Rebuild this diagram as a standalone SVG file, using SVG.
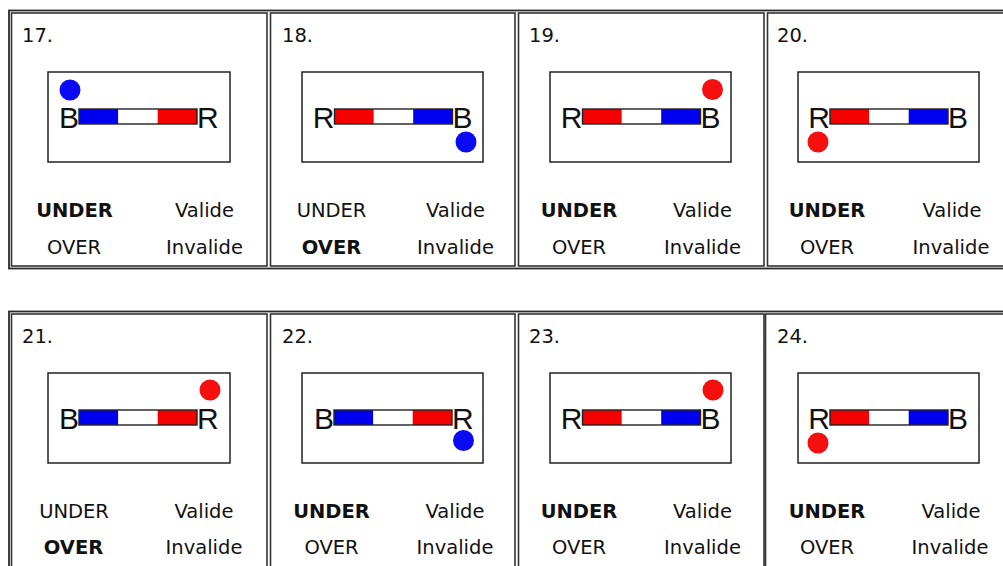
<svg xmlns="http://www.w3.org/2000/svg" width="1003" height="566" viewBox="0 0 1003 566">
<style>
.tbl{fill:none;stroke:#2a2a2a;stroke-width:1.8}
.cell{fill:none;stroke:#333;stroke-width:1.6}
.box{fill:#fff;stroke:#222;stroke-width:1.5}
.seg{stroke:none}
.barline{fill:none;stroke:#222;stroke-width:1.4}
.blue{fill:#0000f0}
.red{fill:#f40000}
.white{fill:#fff}
.num{font-family:"DejaVu Sans",Verdana,sans-serif;font-size:19.5px;fill:#111}
.lbl{font-family:"DejaVu Sans",Verdana,sans-serif;font-size:19.5px;fill:#111;text-anchor:middle}
.b{font-weight:bold}
.let{font-family:"Liberation Sans",Arial,sans-serif;font-size:30px;fill:#111}
.dblue{fill:#0a0af5}
.dred{fill:#f51010}
</style>
<rect width="1003" height="566" fill="#fff"/>
<g id="table-row1">
<rect class="tbl" x="9" y="10.5" width="1030" height="258"/>
</g>
<g id="table-row2">
<rect class="tbl" x="9" y="311.5" width="1030" height="300"/>
</g>

<!-- 17 -->
<g id="cell-17">
<rect class="cell" x="11.5" y="13" width="255.5" height="253"/>
<text class="num" x="22" y="42">17.</text>
<rect class="box" x="48" y="72" width="182" height="90"/>
<rect class="seg blue" x="79" y="109" width="39.3" height="15"/>
<rect class="seg white" x="118.3" y="109" width="39.4" height="15"/>
<rect class="seg red" x="157.7" y="109" width="39.3" height="15"/>
<rect class="barline" x="79" y="109" width="118" height="15"/>
<text class="let" x="79" y="127.5" text-anchor="end">B</text>
<text class="let" x="197" y="127.5">R</text>
<circle class="dblue" cx="70" cy="90" r="10.5"/>
<text class="lbl b" x="74.5" y="216.5">UNDER</text>
<text class="lbl" x="204.5" y="216.5">Valide</text>
<text class="lbl" x="74" y="253.5">OVER</text>
<text class="lbl" x="204.5" y="253.5">Invalide</text>
</g>

<!-- 18 -->
<g id="cell-18">
<rect class="cell" x="270.5" y="13" width="244.5" height="253"/>
<text class="num" x="282" y="42">18.</text>
<rect class="box" x="302" y="72" width="181" height="90"/>
<rect class="seg red" x="334.5" y="109" width="39.3" height="15"/>
<rect class="seg white" x="373.8" y="109" width="39.4" height="15"/>
<rect class="seg blue" x="413.2" y="109" width="39.3" height="15"/>
<rect class="barline" x="334.5" y="109" width="118" height="15"/>
<text class="let" x="334.5" y="127.5" text-anchor="end">R</text>
<text class="let" x="452.5" y="127.5">B</text>
<circle class="dblue" cx="466" cy="142" r="10.5"/>
<text class="lbl" x="331.5" y="216.5">UNDER</text>
<text class="lbl" x="455.5" y="216.5">Valide</text>
<text class="lbl b" x="331.5" y="253.5">OVER</text>
<text class="lbl" x="455.5" y="253.5">Invalide</text>
</g>

<!-- 19 -->
<g id="cell-19">
<rect class="cell" x="518.5" y="13" width="245.5" height="253"/>
<text class="num" x="529" y="42">19.</text>
<rect class="box" x="550" y="72" width="181" height="90"/>
<rect class="seg red" x="582.5" y="109" width="39.3" height="15"/>
<rect class="seg white" x="621.8" y="109" width="39.4" height="15"/>
<rect class="seg blue" x="661.2" y="109" width="39.3" height="15"/>
<rect class="barline" x="582.5" y="109" width="118" height="15"/>
<text class="let" x="582.5" y="127.5" text-anchor="end">R</text>
<text class="let" x="700.5" y="127.5">B</text>
<circle class="dred" cx="712.5" cy="89.5" r="10.5"/>
<text class="lbl b" x="579" y="216.5">UNDER</text>
<text class="lbl" x="702.5" y="216.5">Valide</text>
<text class="lbl" x="579" y="253.5">OVER</text>
<text class="lbl" x="702.5" y="253.5">Invalide</text>
</g>

<!-- 20 -->
<g id="cell-20">
<rect class="cell" x="767.5" y="13" width="260" height="253"/>
<text class="num" x="777" y="42">20.</text>
<rect class="box" x="798" y="72" width="181" height="90"/>
<rect class="seg red" x="830" y="109" width="39.3" height="15"/>
<rect class="seg white" x="869.3" y="109" width="39.4" height="15"/>
<rect class="seg blue" x="908.7" y="109" width="39.3" height="15"/>
<rect class="barline" x="830" y="109" width="118" height="15"/>
<text class="let" x="830" y="127.5" text-anchor="end">R</text>
<text class="let" x="948" y="127.5">B</text>
<circle class="dred" cx="818" cy="142" r="10.5"/>
<text class="lbl b" x="827" y="216.5">UNDER</text>
<text class="lbl" x="952" y="216.5">Valide</text>
<text class="lbl" x="827" y="253.5">OVER</text>
<text class="lbl" x="951" y="253.5">Invalide</text>
</g>

<!-- 21 -->
<g id="cell-21">
<rect class="cell" x="11.5" y="314" width="255.5" height="300"/>
<text class="num" x="22" y="343">21.</text>
<rect class="box" x="48" y="373" width="182" height="90"/>
<rect class="seg blue" x="79" y="410" width="39.3" height="15"/>
<rect class="seg white" x="118.3" y="410" width="39.4" height="15"/>
<rect class="seg red" x="157.7" y="410" width="39.3" height="15"/>
<rect class="barline" x="79" y="410" width="118" height="15"/>
<text class="let" x="79" y="428.5" text-anchor="end">B</text>
<text class="let" x="197" y="428.5">R</text>
<circle class="dred" cx="210" cy="390" r="10.5"/>
<text class="lbl" x="74" y="517.5">UNDER</text>
<text class="lbl" x="204" y="517.5">Valide</text>
<text class="lbl b" x="73.5" y="554">OVER</text>
<text class="lbl" x="204" y="554">Invalide</text>
</g>

<!-- 22 -->
<g id="cell-22">
<rect class="cell" x="270.5" y="314" width="244.5" height="300"/>
<text class="num" x="282" y="343">22.</text>
<rect class="box" x="302" y="373" width="181" height="90"/>
<rect class="seg blue" x="334" y="410" width="39.3" height="15"/>
<rect class="seg white" x="373.3" y="410" width="39.4" height="15"/>
<rect class="seg red" x="412.7" y="410" width="39.3" height="15"/>
<rect class="barline" x="334" y="410" width="118" height="15"/>
<text class="let" x="334" y="428.5" text-anchor="end">B</text>
<text class="let" x="452" y="428.5">R</text>
<circle class="dblue" cx="463.5" cy="440.5" r="10.5"/>
<text class="lbl b" x="331.5" y="517.5">UNDER</text>
<text class="lbl" x="455" y="517.5">Valide</text>
<text class="lbl" x="331.5" y="554">OVER</text>
<text class="lbl" x="455" y="554">Invalide</text>
</g>

<!-- 23 -->
<g id="cell-23">
<rect class="cell" x="518.5" y="314" width="245.5" height="300"/>
<text class="num" x="529" y="343">23.</text>
<rect class="box" x="550" y="373" width="181" height="90"/>
<rect class="seg red" x="582.5" y="410" width="39.3" height="15"/>
<rect class="seg white" x="621.8" y="410" width="39.4" height="15"/>
<rect class="seg blue" x="661.2" y="410" width="39.3" height="15"/>
<rect class="barline" x="582.5" y="410" width="118" height="15"/>
<text class="let" x="582.5" y="428.5" text-anchor="end">R</text>
<text class="let" x="700.5" y="428.5">B</text>
<circle class="dred" cx="713" cy="390" r="10.5"/>
<text class="lbl b" x="579" y="517.5">UNDER</text>
<text class="lbl" x="702.5" y="517.5">Valide</text>
<text class="lbl" x="579" y="554">OVER</text>
<text class="lbl" x="702.5" y="554">Invalide</text>
</g>

<!-- 24 -->
<g id="cell-24">
<rect class="cell" x="765.5" y="314" width="262" height="300"/>
<text class="num" x="777" y="343">24.</text>
<rect class="box" x="798" y="373" width="181" height="90"/>
<rect class="seg red" x="830" y="410" width="39.3" height="15"/>
<rect class="seg white" x="869.3" y="410" width="39.4" height="15"/>
<rect class="seg blue" x="908.7" y="410" width="39.3" height="15"/>
<rect class="barline" x="830" y="410" width="118" height="15"/>
<text class="let" x="830" y="428.5" text-anchor="end">R</text>
<text class="let" x="948" y="428.5">B</text>
<circle class="dred" cx="818" cy="443" r="10.5"/>
<text class="lbl b" x="827" y="517.5">UNDER</text>
<text class="lbl" x="951" y="517.5">Valide</text>
<text class="lbl" x="827" y="554">OVER</text>
<text class="lbl" x="950" y="554">Invalide</text>
</g>
</svg>
